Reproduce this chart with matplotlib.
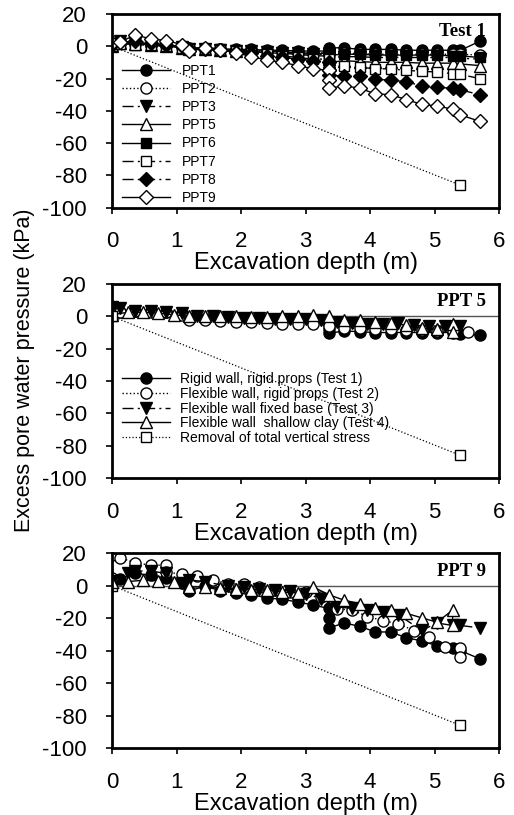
import matplotlib
matplotlib.use("Agg")
import matplotlib.pyplot as plt
from matplotlib import font_manager

# excavation depth steps (m)
X_T1 = [0, 0.12, 0.36, 0.6, 0.84, 1.08, 1.2, 1.44, 1.68, 1.92, 2.16, 2.4, 2.64, 2.88, 3.12,
        3.36, 3.36, 3.36, 3.6, 3.84, 4.08, 4.32, 4.56, 4.8, 5.04, 5.28, 5.4, 5.7]
X_T2_P5 = [0, 0.12, 0.36, 0.6, 0.84, 1.08, 1.2, 1.44, 1.68, 1.92, 2.16, 2.4, 2.64, 2.88, 3.12,
           3.36, 3.6, 3.84, 4.08, 4.32, 4.56, 4.8, 5.04, 5.28, 5.52]
X_T2_P9 = [0, 0, 0.12, 0.36, 0.6, 0.84, 0.84, 1.08, 1.32, 1.56, 1.8, 2.04, 2.28, 2.52, 2.76,
           3.0, 3.24, 3.48, 3.72, 3.96, 4.2, 4.44, 4.68, 4.92, 5.16, 5.4, 5.4]
X_T3_P5 = [0, 0.12, 0.36, 0.6, 0.84, 1.08, 1.32, 1.56, 1.8, 2.04, 2.28, 2.52, 2.76, 3.0,
           3.24, 3.48, 3.72, 3.96, 4.2, 4.44, 4.68, 4.92, 5.16, 5.4]
X_T3_P9 = [0, 0.24, 0.36, 0.6, 0.84, 1.08, 1.2, 1.44, 1.8, 2.04, 2.28, 2.52, 2.76, 3.0,
           3.24, 3.48, 3.72, 3.96, 4.2, 4.44, 4.8, 5.04, 5.28, 5.4, 5.7]
X_T4 = [0, 0.24, 0.48, 0.72, 0.96, 1.2, 1.44, 1.68, 1.92, 2.16, 2.4, 2.64, 2.88, 3.12,
        3.36, 3.6, 3.84, 4.08, 4.32, 4.56, 4.8, 5.04, 5.28, 5.28]
X_TV = [0, 5.4]
TV = [0, -86]  # removal of total vertical stress

# Test 1, all transducers (kPa)
PPT1 = [0, 2, 2, 1, 0.5, 0, -1, -1, -1.5, -2, -2, -2.5, -2.5, -3, -3, -3, -2, -1,
        -1, -2, -2, -2, -2.5, -2.5, -2.5, -2.5, -2.5, 3]
PPT2 = [1, 2, 1.5, 1, 0.5, -0.5, -1.5, -1.5, -2, -2.5, -3, -3, -3.5, -4, -4, -4, -4.5, -5,
        -4.5, -4.5, -5, -5, -5, -5, -5, -5, -5, -5.5]
PPT3 = [1, 3, 2, 1, 0, -0.5, -2, -2, -2.5, -3, -3, -3.5, -4, -4.5, -5, -5, -6, -7,
        -6.5, -6.5, -7, -7, -7, -7, -7, -7, -7.5, -8]
PPT5 = [0, 2, 1.5, 1, 0, -1, -2, -2, -2.5, -3, -3.5, -4, -4.5, -5, -6, -6, -8, -10,
        -9, -9.5, -10, -10, -10, -10.5, -10.5, -10.5, -11, -12]
PPT6 = [0, 2, 2, 1, 0.5, -0.5, -1.5, -1.5, -2, -2.5, -3, -3, -3.5, -4, -4.5, -4.5, -5, -5.5,
        -5, -5, -5.5, -5.5, -5.5, -5.5, -5.5, -6, -6, -7]
PPT7 = [0, 1.5, 1, 0.5, 0, -1, -2, -2, -2.5, -3, -4, -5, -6, -7, -8, -8, -11, -13,
        -12.5, -13, -14, -14, -15, -15.5, -16, -17, -17.5, -20]
PPT8 = [1, 2.5, 3, 2, 1, 0, -2, -1.5, -2.5, -3.5, -4.5, -6, -7, -8, -9, -10, -15, -18,
        -18.5, -18.5, -20.5, -21, -22, -24.5, -25.5, -26, -27, -30]
PPT9 = [2, 2.5, 7, 4.5, 3.5, 1, -3, -1, -2.5, -4, -6.5, -8.5, -10, -12, -14, -15, -21, -26,
        -24.5, -26, -29.5, -30, -33, -36, -37, -39, -42.5, -46.5]

# PPT 5, all tests
T1_P5 = [2, 3, 3.5, 3.5, 3, 2, -1, -1.5, -1.5, -2, -2, -2.5, -2.5, -3, -3, -5, -8, -10.5,
         -9, -9.5, -10, -10, -10, -10, -10, -10, -11, -11.5]
T2_P5 = [2, 3, 3.5, 3, 2.5, 1, -2, -2.5, -3, -3.5, -3.5, -4, -4.5, -4.5, -5, -6, -7, -7.5,
         -8, -8, -8.5, -8.5, -9, -9, -9.5]
T3_P5 = [6, 5, 3.5, 3.5, 3, 2, 0.5, 0, -0.5, -1, -1, -1.5, -1.5, -1.5, -2, -3.5, -4, -4.5,
         -4.5, -4, -5.5, -6, -6, -6]
T4_P5 = [1, 2.5, 2.5, 2, 1, 0, 0, 0, 0, -0.5, -0.5, 0, 0, 1, 0, -2.5, -2, -3.5, -4, -5.5,
         -7.5, -8, -4.5, -9.5]

# PPT 9, all tests
T1_P9 = [2, 4, 7.5, 6.5, 4.5, 1.5, -3, -0.5, -3, -4.5, -5.5, -7.5, -8.5, -10, -12, -14, -20, -26,
         -23, -25, -28.5, -28.5, -32, -34, -37, -38.5, -40, -45]
T2_P9 = [5, 18.7, 17.3, 14, 12.6, 12.6, 8.4, 7, 6, 3.7, 1.2, 0.8, -0.8, -2.5, -3.9, -3.9, -7,
         -14.3, -15, -19, -21.5, -23.5, -27.6, -31.8, -37.5, -38.4, -44]
T3_P9 = [3, 8, 9, 9, 7.5, 1.5, 3.5, 2.5, -0.5, -1, -2, -2.5, -3, -5, -8, -13, -14, -15, -16,
         -18, -27.5, -23, -24.5, -24.5, -26]
T4_P9 = [2.5, 2.5, 3.3, 3, 2.3, -0.8, -0.8, -1.5, -2, -2.5, -2.5, -3.9, -4.5, -0.8, -5.6, -9,
         -11, -14, -15, -17, -19.8, -22.5, -15, -24.5]

# label fonts: narrow face if present
names = {f.name for f in font_manager.fontManager.ttflist}
if 'Liberation Sans Narrow' in names:
    lab_font, xlab_size, ylab_size = 'Liberation Sans Narrow', 20, 19
else:
    lab_font, xlab_size, ylab_size = 'Liberation Sans', 17, 15.5

plt.rcParams['font.family'] = ['Liberation Sans', 'DejaVu Sans']
plt.rcParams['axes.unicode_minus'] = False

DASHDOT = (0, (8, 3, 1.5, 3))
k = dict(color='black', lw=1, mec='black', mew=1)


def style(ax, title):
    ax.set_xlim(0, 6)
    ax.set_ylim(-100, 20)
    ax.set_xticks(range(0, 7))
    ax.set_yticks(range(-100, 21, 20))
    ax.tick_params(direction='out', length=4, width=1.2, labelsize=16)
    ax.tick_params(axis='y', pad=14)
    ax.tick_params(axis='x', pad=13)
    for s in ax.spines.values():
        s.set_linewidth(2)
    ax.set_xlabel('Excavation depth (m)', family=[lab_font, 'Liberation Sans'],
                  fontsize=xlab_size, labelpad=0)
    ax.text(0.965, 0.885, title, transform=ax.transAxes, ha='right', va='baseline',
            family='Liberation Serif', fontweight='bold', fontsize=13.5)


fig = plt.figure(figsize=(5.14, 8.15), dpi=100)
ax1 = fig.add_axes([0.218, 0.745, 0.753, 0.238])
ax2 = fig.add_axes([0.218, 0.4135, 0.753, 0.238])
ax3 = fig.add_axes([0.218, 0.082, 0.753, 0.2393])

# Test 1
ax1.plot(X_TV, TV, ls=':', marker='s', ms=7, mfc='white', color='black', lw=0.9, mec='black')
ax1.plot(X_T1, PPT1, ls='-', marker='o', ms=8, mfc='black', label='PPT1', **k)
ax1.plot(X_T1, PPT2, ls=':', marker='o', ms=8, mfc='white', label='PPT2', **k)
ax1.plot(X_T1, PPT3, ls=DASHDOT, marker='v', ms=8, mfc='black', label='PPT3', **k)
ax1.plot(X_T1, PPT5, ls='-', marker='^', ms=8, mfc='white', label='PPT5', **k)
ax1.plot(X_T1, PPT6, ls='-', marker='s', ms=7.5, mfc='black', label='PPT6', **k)
ax1.plot(X_T1, PPT7, ls=DASHDOT, marker='s', ms=7.5, mfc='white', label='PPT7', **k)
ax1.plot(X_T1, PPT8, ls=DASHDOT, marker='D', ms=7, mfc='black', label='PPT8', **k)
ax1.plot(X_T1, PPT9, ls='-', marker='D', ms=7, mfc='white', label='PPT9', **k)
h, l = ax1.get_legend_handles_labels()
ax1.legend(h, l, loc='lower left', bbox_to_anchor=(0.0, -0.035), frameon=False, fontsize=10,
           handlelength=3.5, handletextpad=0.8, labelspacing=0.3, borderpad=0.2)
style(ax1, 'Test 1')

# PPT 5
ax2.axhline(0, color='#555555', lw=1, zorder=1)
ax2.plot(X_T1, T1_P5, ls='-', marker='o', ms=8, mfc='black', label='Rigid wall, rigid props (Test 1)', **k)
ax2.plot(X_T2_P5, T2_P5, ls=':', marker='o', ms=8, mfc='white', label='Flexible wall, rigid props (Test 2)', **k)
ax2.plot(X_T3_P5, T3_P5, ls=DASHDOT, marker='v', ms=8, mfc='black', label='Flexible wall fixed base (Test 3)', **k)
ax2.plot(X_T4, T4_P5, ls='-', marker='^', ms=8, mfc='white', label='Flexible wall  shallow clay (Test 4)', **k)
ax2.plot(X_TV, TV, ls=':', marker='s', ms=7, mfc='white', color='black', lw=0.9, mec='black',
         label='Removal of total vertical stress')
ax2.legend(loc='lower left', bbox_to_anchor=(0.0, 0.12), frameon=False, fontsize=10,
           handlelength=3.5, handletextpad=0.7, labelspacing=0.05, borderpad=0.2)
style(ax2, 'PPT 5')

# PPT 9
ax3.axhline(0, color='#555555', lw=1, zorder=1)
ax3.plot(X_TV, TV, ls=':', marker='s', ms=7, mfc='white', color='black', lw=0.9, mec='black')
ax3.plot(X_T1, T1_P9, ls='-', marker='o', ms=8, mfc='black', **k)
ax3.plot(X_T2_P9, T2_P9, ls=':', marker='o', ms=8, mfc='white', **k)
ax3.plot(X_T3_P9, T3_P9, ls=DASHDOT, marker='v', ms=8, mfc='black', **k)
ax3.plot(X_T4, T4_P9, ls='-', marker='^', ms=8, mfc='white', **k)
style(ax3, 'PPT 9')

fig.text(0.047, 0.546, 'Excess pore water pressure (kPa)', rotation=90, ha='center', va='center',
         family=[lab_font, 'Liberation Sans'], fontsize=ylab_size)

fig.savefig('out.png', dpi=100)
